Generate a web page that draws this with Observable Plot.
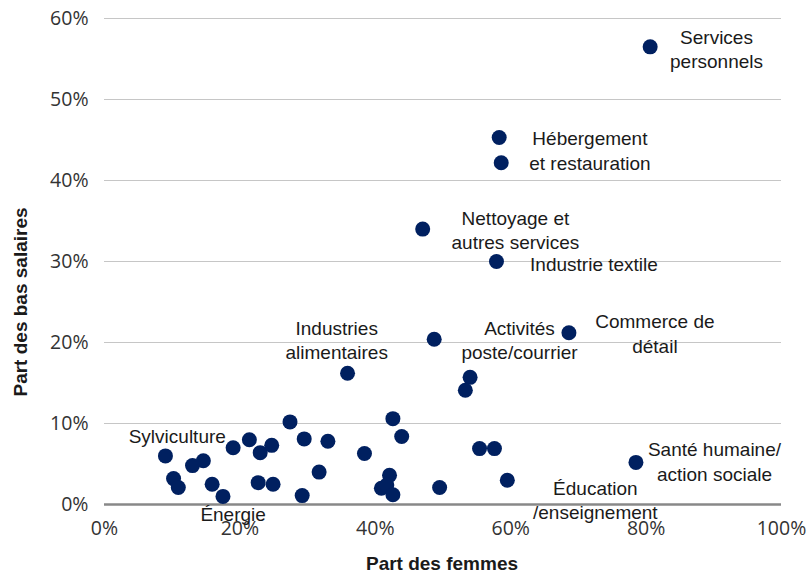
<!DOCTYPE html>
<html><head><meta charset="utf-8">
<script src="https://cdn.jsdelivr.net/npm/d3@7"></script>
<script src="https://cdn.jsdelivr.net/npm/@observablehq/plot@0.6"></script>
<style>body{margin:0;background:#fff;}</style>
</head><body><div id="chart"></div>
<script>
// Part des femmes (x) and part des bas salaires (y), one entry per sector
const partFemmes = [0.806,0.583,0.586,0.470,0.579,0.686,0.487,0.359,0.540,0.533,
  0.785,0.554,0.576,0.595,0.495,0.274,0.426,0.295,0.330,0.439,
  0.384,0.317,0.421,0.409,0.417,0.426,0.292,0.090,0.190,0.214,
  0.230,0.247,0.130,0.146,0.102,0.109,0.159,0.175,0.227,0.249];
const partBasSalaires = [0.565,0.453,0.422,0.340,0.300,0.212,0.204,0.162,0.157,0.141,
  0.052,0.069,0.069,0.030,0.021,0.102,0.106,0.081,0.078,0.084,
  0.063,0.040,0.036,0.020,0.024,0.012,0.011,0.060,0.070,0.080,
  0.064,0.073,0.048,0.054,0.032,0.021,0.025,0.010,0.027,0.025];

const labelTexts = ["Services\npersonnels","Hébergement\net restauration","Nettoyage et\nautres services",
  "Industrie textile","Activités\nposte/courrier","Commerce de\ndétail","Industries\nalimentaires",
  "Sylviculture","Énergie","Éducation\n/enseignement","Santé humaine/\naction sociale"];
const labelX = [0.904,0.717,0.607,0.723,0.613,0.813,0.343,0.1075,0.190,0.725,0.901];
const labelY = [0.563,0.438,0.340,0.2975,0.204,0.212,0.204,0.085,-0.011,0.007,0.054];

const xTicks = [0,0.2,0.4,0.6,0.8,1];
const yTicks = [0,0.1,0.2,0.3,0.4,0.5,0.6];

const points = partFemmes.map((x,i)=>({x, y: partBasSalaires[i]}));
const labels = labelTexts.map((t,i)=>({t, x: labelX[i], y: labelY[i]}));
const pct = d3.format(".0%");

const chart = Plot.plot({
  width: 809, height: 577,
  marginLeft: 104, marginRight: 28, marginTop: 18, marginBottom: 73,
  style: {fontFamily: "'Liberation Sans', Arial, sans-serif", fontSize: "19px", background: "#fff", color: "#333"},
  x: {domain: [0,1]},
  y: {domain: [0,0.6]},
  marks: [
    Plot.ruleY(yTicks.filter(d=>d>0), {stroke: "#c6c6c6", strokeWidth: 1}),
    Plot.ruleY([0], {stroke: "#888", strokeWidth: 2.5}),
    Plot.axisX(xTicks, {tickSize: 0, tickPadding: 17, tickFormat: pct, label: null, fontSize: 19.5, fontFamily: "'Open Sans', sans-serif", fill: "#333"}),
    Plot.axisY(yTicks, {tickSize: 0, tickPadding: 16, tickFormat: pct, label: null, fontSize: 19.5, fontFamily: "'Open Sans', sans-serif", fill: "#333"}),
    Plot.dot(points, {x: "x", y: "y", r: 7.5, fill: "#002060", stroke: "none"}),
    Plot.text(labels, {x: "x", y: "y", text: "t", fontSize: 19, lineHeight: 1.27, fill: "#1a1a1a"})
  ]
});

const svg = d3.select(chart);
svg.append("text").attr("x", 442).attr("y", 570).attr("text-anchor", "middle")
  .attr("font-weight", "bold").attr("font-size", 19).attr("fill", "#1a1a1a").text("Part des femmes");
svg.append("text").attr("transform", "translate(27,302) rotate(-90)").attr("text-anchor", "middle")
  .attr("font-weight", "bold").attr("font-size", 19).attr("fill", "#1a1a1a").text("Part des bas salaires");

document.getElementById("chart").appendChild(chart);
</script>
</body></html>
